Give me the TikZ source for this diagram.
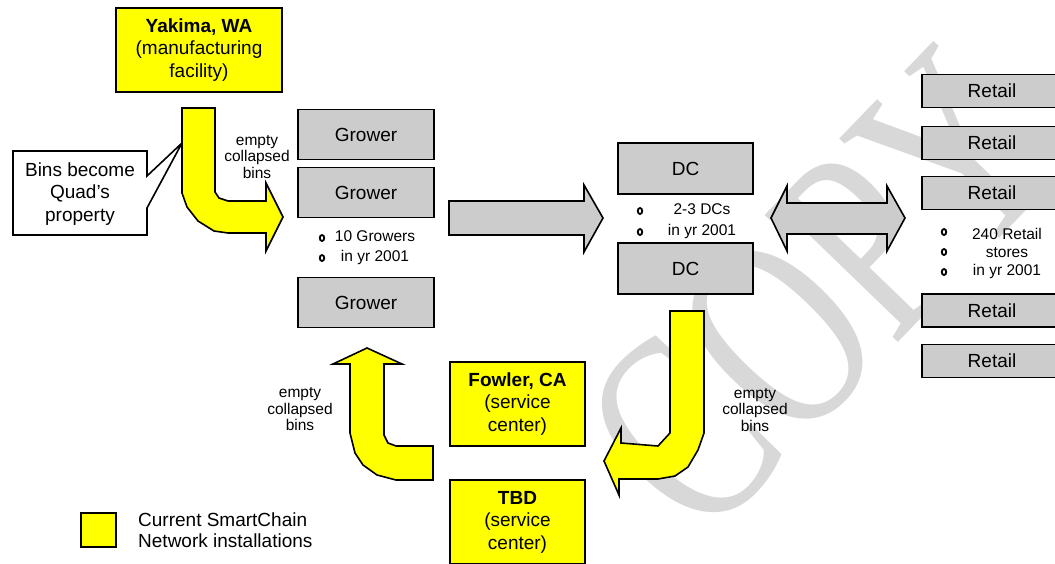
\documentclass[tikz,border=0pt]{standalone}
\usepackage{fontspec}
\setmainfont{Liberation Sans}
\newfontfamily\wmfont{Liberation Serif}
\usetikzlibrary{shapes.geometric}

\definecolor{boxyellow}{RGB}{255,255,0}
\definecolor{boxgray}{RGB}{204,204,204}
\definecolor{wmgray}{RGB}{216,216,216}

\tikzset{
  yel/.style={draw=black, fill=boxyellow, line width=1.6pt},
  grb/.style={draw=black, fill=boxgray, line width=1.6pt},
  blk/.style={rectangle, inner sep=0pt, align=center},
  big/.style={font=\fontsize{19}{22.5}\selectfont},
  small/.style={font=\fontsize{15.5}{16.5}\selectfont, align=center},
  bul/.style={ellipse, draw=black, line width=1.8pt, minimum width=4.5pt, minimum height=6pt, inner sep=0pt},
  growerbox/.style={blk, grb, big, minimum width=136pt, minimum height=50pt},
  dcbox/.style={blk, grb, big, minimum width=135pt, minimum height=51pt},
  retailbox/.style={blk, grb, big, minimum width=140pt, minimum height=33pt},
  sitebox/.style={blk, yel, big, minimum width=135pt, minimum height=84pt},
}

\begin{document}
\begin{tikzpicture}[x=1pt,y=-1pt]
\useasboundingbox (0,0) rectangle (1055,563);
\clip (0,0) rectangle (1055,563);

% watermark
\node[rotate=46, yscale=1.42, text=wmgray, inner sep=0pt,
      font=\wmfont\fontsize{198}{198}\selectfont] (wm) at (820,292) {COPY};

% manufacturing facility
\node[sitebox, minimum width=166pt] (yak) at (199,50)
  {\textbf{Yakima, WA}\\(manufacturing\\facility)};

% growers
\node[growerbox] (g1) at (366,134.5) {Grower};
\node[growerbox] (g2) at (366,192.5) {Grower};
\node[growerbox] (g3) at (366,302.5) {Grower};
\node[bul] (gb1) at (322,238) {};
\node[bul] (gb2) at (322,258) {};
\node[small, font=\fontsize{15.5}{20}\selectfont] (gtxt) at (375,248) {10 Growers\\in yr 2001};

% distribution centers
\node[dcbox] (dc1) at (685.5,168.5) {DC};
\node[dcbox] (dc2) at (685.5,268.5) {DC};
\node[bul] (db1) at (640,211) {};
\node[bul] (db2) at (640,232) {};
\node[small, font=\fontsize{15.5}{21}\selectfont] (dtxt) at (702,221.5) {2-3 DCs\\in yr 2001};

% retail stores
\node[retailbox] (r1) at (992,91) {Retail};
\node[retailbox] (r2) at (992,143) {Retail};
\node[retailbox] (r3) at (992,193) {Retail};
\node[retailbox] (r4) at (992,310.5) {Retail};
\node[retailbox] (r5) at (992,361) {Retail};
\node[bul] (rb1) at (944,232) {};
\node[bul] (rb2) at (944,252) {};
\node[bul] (rb3) at (944,272) {};
\node[small, font=\fontsize{15.5}{18}\selectfont] (rtxt) at (1007,253) {240 Retail\\stores\\in yr 2001};

% service centers
\node[sitebox] (fow) at (517.5,404) {\textbf{Fowler, CA}\\(service\\center)};
\node[sitebox] (tbd) at (517.5,522) {\textbf{TBD}\\(service\\center)};

% callout
\draw[line width=1.6pt, fill=white]
  (13,151) -- (147,151) -- (147,176) -- (182,143) -- (147,208)
  -- (147,235) -- (13,235) -- cycle;
\node[big, align=center] (note) at (80,194) {Bins become\\Quad's\\property};

% flow arrows: growers -> DCs, DCs <-> retail
\draw[grb] (449,201) -- (584,201) -- (584,185) -- (603,218) -- (584,252)
  -- (584,235) -- (449,235) -- cycle;
\draw[grb] (771,218) -- (787,186) -- (787,203) -- (887,203) -- (887,186)
  -- (905,218) -- (887,251) -- (887,234) -- (787,234) -- (787,251) -- cycle;

% bin return arrows
\draw[yel] (182,108) -- (215,108) -- (215,192) -- (219,198) -- (228,201)
  -- (266,201) -- (266,183) -- (283,217) -- (266,251) -- (266,233)
  -- (228,233) -- (214,231) -- (198,221) -- (187,207) -- (182,193) -- cycle;
\draw[yel] (670,311) -- (704,311) -- (704,433) -- (698,450) -- (688,467)
  -- (675,476) -- (658,479) -- (619,479) -- (619,495) -- (604,461)
  -- (621,428) -- (621,443) -- (658,446) -- (670,433) -- cycle;
\draw[yel] (367,348) -- (402,364) -- (384,364) -- (384,435) -- (388,443)
  -- (396,446) -- (433,446) -- (433,480) -- (396,480) -- (377,475)
  -- (363,465) -- (355,453) -- (350,433) -- (350,364) -- (333,364) -- cycle;

\node[small] (lab1) at (257,157) {empty\\collapsed\\bins};
\node[small] (lab2) at (300,409.5) {empty\\collapsed\\bins};
\node[small] (lab3) at (755,410) {empty\\collapsed\\bins};

% legend
\node[blk, yel, minimum width=35pt, minimum height=34pt] (key) at (98.5,530) {};
\node[anchor=west, align=left, inner sep=0pt, font=\fontsize{19}{21}\selectfont]
  (keytxt) at (138,530) {Current SmartChain\\Network installations};
\end{tikzpicture}
\end{document}
